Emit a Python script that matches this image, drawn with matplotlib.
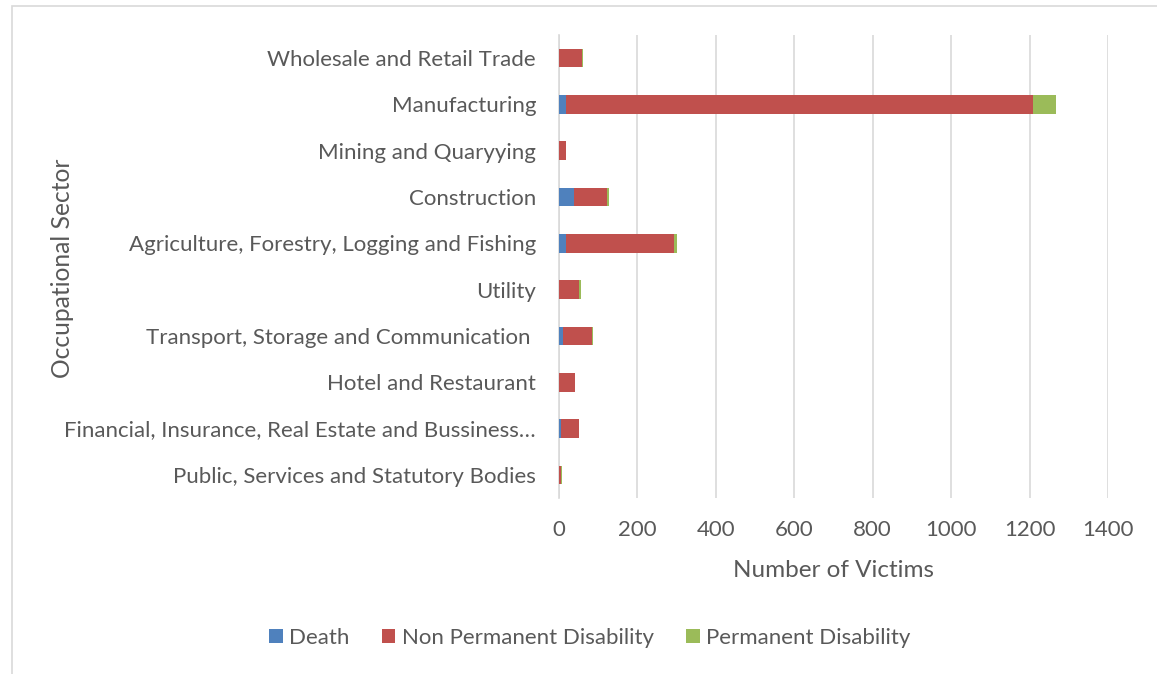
import matplotlib
matplotlib.use("Agg")
import matplotlib.pyplot as plt
from matplotlib.patches import Rectangle
import numpy as np

categories = [
    "Wholesale and Retail Trade",
    "Manufacturing",
    "Mining and Quaryying",
    "Construction",
    "Agriculture, Forestry, Logging and Fishing",
    "Utility",
    "Transport, Storage and Communication ",
    "Hotel and Restaurant",
    "Financial, Insurance, Real Estate and Bussiness…",
    "Public, Services and Statutory Bodies",
]
death = [0, 18, 0, 37, 18, 1, 11, 0, 4, 1]
non_permanent = [58, 1192, 18, 86, 276, 50, 73, 41, 46, 5]
permanent = [2, 57, 0, 5, 7, 4, 2, 0, 0, 1]
xticks = [0, 200, 400, 600, 800, 1000, 1200, 1400]

text_color = "#595959"
plt.rcParams["font.family"] = ["Lato", "DejaVu Sans"]

fig = plt.figure(figsize=(11.57, 6.74), dpi=100)
fig.patches.append(Rectangle((12 / 1157, -0.1), 1.2, 1 - 6 / 674 + 0.1,
                             transform=fig.transFigure, fill=False,
                             edgecolor="#d9d9d9", linewidth=1.2, zorder=0))
ax = fig.add_axes([559 / 1157, 1 - 498 / 674, 549 / 1157, 463 / 674])

y = np.arange(len(categories))
h = 0.4
d = np.array(death)
n = np.array(non_permanent)
p = np.array(permanent)
ax.barh(y, d, height=h, color="#4F81BD", label="Death", zorder=3)
ax.barh(y, n, left=d, height=h, color="#C0504D", label="Non Permanent Disability", zorder=3)
ax.barh(y, p, left=d + n, height=h, color="#9BBB59", label="Permanent Disability", zorder=3)

ax.set_ylim(len(categories) - 0.5, -0.5)
ax.set_xlim(0, 1400)
ax.set_xticks(xticks)
ax.set_xticklabels([str(t) for t in xticks])
ax.set_yticks(y)
ax.set_yticklabels(categories)
ax.grid(axis="x", color="#d9d9d9", linewidth=1.2, zorder=0)
for s in ["top", "right", "bottom"]:
    ax.spines[s].set_visible(False)
ax.spines["left"].set_color("#d9d9d9")
ax.spines["left"].set_linewidth(1.2)
ax.tick_params(axis="both", length=0, labelsize=16, colors=text_color)
ax.tick_params(axis="y", pad=16.5)
ax.tick_params(axis="x", pad=16)

ax.set_xlabel("Number of Victims", fontsize=17.5, color=text_color, labelpad=14)
fig.text(62 / 1157, 1 - 268 / 674, "Occupational Sector", rotation=90,
         fontsize=17.7, color=text_color, ha="center", va="center")

handles, labels = ax.get_legend_handles_labels()
fig.legend(handles, labels, loc="center", bbox_to_anchor=(590 / 1157, 1 - 638 / 674),
           ncol=3, frameon=False, fontsize=16, labelcolor=text_color,
           handlelength=0.6, handleheight=0.6, handletextpad=0.3, columnspacing=1.45)

fig.savefig("out.png", dpi=100)
